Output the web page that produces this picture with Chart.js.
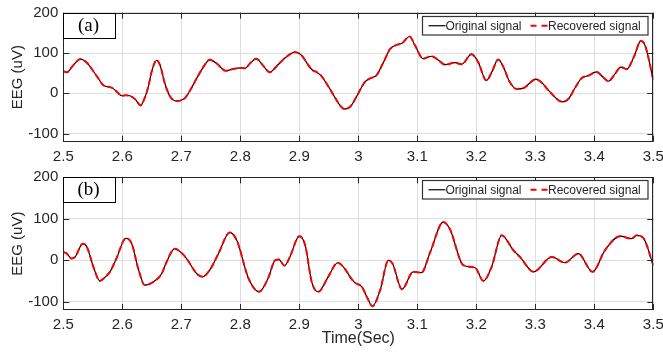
<!DOCTYPE html>
<html>
<head>
<meta charset="utf-8">
<script src="https://cdn.jsdelivr.net/npm/chart.js@4.4.1/dist/chart.umd.min.js"></script>
<style>
  body { margin: 0; background: #fff; }
  #wrap { position: relative; width: 663px; height: 356px; }
  canvas { position: absolute; left: 0; }
  #chartA { top: 0; }
  #chartB { top: 170px; }
</style>
</head>
<body>
<div id="wrap">
  <canvas id="chartA" width="663" height="170" style="width:663px;height:170px"></canvas>
  <canvas id="chartB" width="663" height="186" style="width:663px;height:186px"></canvas>
</div>
<script>
// tiempo (s) y amplitud (uV) de cada panel
const timeA = [2.500,2.506,2.516,2.529,2.540,2.548,2.558,2.568,2.582,2.590,2.599,2.606,2.613,2.622,2.631,2.637,2.644,2.650,2.658,2.664,2.672,2.681,2.692,2.706,2.716,2.726,2.736,2.748,2.760,2.775,2.787,2.800,2.808,2.817,2.827,2.838,2.850,2.862,2.876,2.893,2.904,2.913,2.921,2.930,2.938,2.948,2.958,2.968,2.977,2.987,2.997,3.011,3.020,3.031,3.042,3.054,3.065,3.074,3.087,3.096,3.110,3.124,3.136,3.147,3.164,3.175,3.192,3.203,3.217,3.227,3.237,3.246,3.256,3.268,3.280,3.301,3.312,3.322,3.346,3.356,3.368,3.378,3.390,3.404,3.415,3.424,3.435,3.445,3.455,3.467,3.479,3.486,3.500];
const originalA = [55,52,68,85,76,61,40,20,14,5,-6,-5,-6,-15,-30,-15,16,55,82,70,25,-8,-19,-12,10,37,62,83,74,56,60,63,62,75,86,70,52,68,88,102,94,75,59,52,42,20,-4,-28,-39,-32,-8,28,37,45,75,110,120,124,141,119,86,92,82,71,76,72,97,78,32,55,84,65,30,11,13,35,25,8,-21,-14,15,37,44,53,40,30,48,65,60,90,130,119,33];
const recoveredA = [55,52,68,85,76,61,40,20,14,5,-6,-5,-6,-15,-30,-15,16,55,82,70,25,-8,-19,-12,10,37,62,83,74,56,60,63,62,75,86,70,52,68,88,102,94,75,59,52,42,20,-4,-28,-39,-32,-8,28,37,45,75,110,120,124,141,119,86,92,82,71,76,72,97,78,32,55,84,65,30,11,13,35,25,8,-21,-14,15,37,44,53,40,30,48,65,60,90,130,119,33];

const timeB = [2.500,2.506,2.514,2.520,2.533,2.540,2.551,2.562,2.570,2.579,2.590,2.606,2.616,2.627,2.638,2.653,2.667,2.675,2.689,2.700,2.709,2.726,2.736,2.749,2.763,2.782,2.794,2.814,2.832,2.847,2.859,2.865,2.875,2.884,2.900,2.910,2.921,2.932,2.949,2.965,2.977,2.986,2.994,3.006,3.015,3.024,3.037,3.051,3.058,3.074,3.093,3.107,3.122,3.144,3.155,3.178,3.198,3.212,3.226,3.243,3.263,3.274,3.297,3.328,3.350,3.373,3.397,3.418,3.444,3.463,3.472,3.483,3.500];
const originalB = [20,16,4,8,40,32,-16,-50,-42,-28,4,53,40,-20,-60,-52,-32,-4,28,18,4,-32,-40,-22,16,67,48,-44,-76,-44,0,2,-13,8,58,36,-52,-76,-40,-6,-20,-40,-54,-64,-90,-111,-72,0,-8,-70,-28,-30,20,92,76,-12,-18,-50,-16,60,24,8,-28,8,-6,16,-28,24,58,52,60,54,-12];
const recoveredB = [20,16,4,8,40,32,-16,-50,-42,-28,4,53,40,-20,-60,-52,-32,-4,28,18,4,-32,-40,-22,16,67,48,-44,-76,-44,0,2,-13,8,58,36,-52,-76,-40,-6,-20,-40,-54,-64,-90,-111,-72,0,-8,-70,-28,-30,20,92,76,-12,-18,-50,-16,60,24,8,-28,8,-6,16,-28,24,58,52,60,54,-12];

// ejes
const xTickLabels = ['2.5','2.6','2.7','2.8','2.9','3','3.1','3.2','3.3','3.4','3.5'];
const yTickLabels = ['-100','0','100','200'];
const seriesNames = ['Original signal', 'Recovered signal'];

const AXIS_FONT = 'Liberation Sans, Arial, sans-serif';
const TEXT_COLOR = '#262626';

// caja, marcas hacia adentro, etiqueta del panel y leyenda
const framePlugin = {
    id: 'frame',
    afterDraw(chart, args, opts) {
        const { ctx, chartArea: a, scales: { x, y } } = chart;
        ctx.save();
        ctx.strokeStyle = TEXT_COLOR;
        ctx.lineWidth = 1;
        ctx.strokeRect(Math.round(a.left) + 0.5, Math.round(a.top) + 0.5,
            Math.round(a.right - a.left) - 1, Math.round(a.bottom - a.top) - 1);

        const len = 6;
        ctx.beginPath();
        x.ticks.forEach(t => {
            const px = Math.round(x.getPixelForValue(t.value)) + 0.5;
            ctx.moveTo(px, a.bottom); ctx.lineTo(px, a.bottom - len);
            ctx.moveTo(px, a.top); ctx.lineTo(px, a.top + len);
        });
        y.ticks.forEach(t => {
            const py = Math.round(y.getPixelForValue(t.value)) + 0.5;
            ctx.moveTo(a.left, py); ctx.lineTo(a.left + len, py);
            ctx.moveTo(a.right, py); ctx.lineTo(a.right - len, py);
        });
        ctx.stroke();

        // (a) / (b)
        const bx = Math.round(a.left) + 0.5, by = Math.round(a.top) + 0.5;
        ctx.fillStyle = '#fff';
        ctx.fillRect(bx, by, 52, 25);
        ctx.strokeStyle = '#000';
        ctx.strokeRect(bx, by, 52, 25);
        ctx.fillStyle = '#000';
        ctx.font = '19px "Liberation Serif", "Times New Roman", serif';
        ctx.textAlign = 'center';
        ctx.textBaseline = 'middle';
        ctx.fillText(opts.tag, bx + 25, by + 13);

        // leyenda
        const lw = 225.5, lh = 18.5;
        const lx = Math.round(a.right) - 5 - lw, ly = Math.round(a.top) + 3.5;
        ctx.fillStyle = '#fff';
        ctx.fillRect(lx, ly, lw, lh);
        ctx.strokeStyle = '#333';
        ctx.lineWidth = 1.2;
        ctx.strokeRect(lx, ly, lw, lh);
        const my = ly + lh / 2;
        const ds = chart.data.datasets;
        ctx.font = '12px ' + AXIS_FONT;
        ctx.textAlign = 'left';
        ctx.fillStyle = TEXT_COLOR;

        ctx.beginPath();
        ctx.strokeStyle = ds[0].borderColor;
        ctx.lineWidth = 1.2;
        ctx.moveTo(lx + 6, my); ctx.lineTo(lx + 23, my);
        ctx.stroke();
        ctx.fillText(ds[0].label, lx + 23, my + 0.5);

        ctx.beginPath();
        ctx.strokeStyle = ds[1].borderColor;
        ctx.lineWidth = 2;
        ctx.setLineDash([6, 5]);
        ctx.moveTo(lx + 108, my); ctx.lineTo(lx + 125, my);
        ctx.stroke();
        ctx.setLineDash([]);
        ctx.fillText(ds[1].label, lx + 125.5, my + 0.5);

        ctx.restore();
    }
};

function makeData(times, orig, rec) {
    return {
        datasets: [
            {
                label: seriesNames[0],
                data: times.map((t, i) => ({ x: t, y: orig[i] })),
                borderColor: '#000000',
                borderWidth: 1.2,
                order: 1
            },
            {
                label: seriesNames[1],
                data: times.map((t, i) => ({ x: t, y: rec[i] })),
                borderColor: '#ff0000',
                borderWidth: 2,
                borderDash: [6, 3],
                order: 0
            }
        ]
    };
}

function makeChart(canvasId, data, tag, showTimeTitle, padTop, xHeight) {
    const xTickVals = xTickLabels.map(Number);
    const yTickVals = yTickLabels.map(Number);
    return new Chart(document.getElementById(canvasId), {
        type: 'line',
        data: data,
        plugins: [framePlugin],
        options: {
            responsive: false,
            animation: false,
            events: [],
            layout: { padding: { top: padTop, right: 9.7, bottom: 0, left: 0 } },
            elements: {
                point: { radius: 0 },
                line: { cubicInterpolationMode: 'monotone' }
            },
            plugins: {
                legend: { display: false },
                tooltip: { enabled: false },
                frame: { tag: tag }
            },
            scales: {
                x: {
                    type: 'linear',
                    min: 2.5,
                    max: 3.5,
                    afterBuildTicks: s => { s.ticks = xTickVals.map(v => ({ value: v })); },
                    // el último rótulo puede salirse del borde, como en el original
                    afterFit: s => { s.height = xHeight; s.paddingLeft = 0; s.paddingRight = 0; },
                    ticks: {
                        callback: (v, i) => xTickLabels[i],
                        maxRotation: 0,
                        autoSkip: false,
                        padding: 6,
                        color: TEXT_COLOR,
                        font: { family: AXIS_FONT, size: 15 }
                    },
                    grid: { color: '#dedede', lineWidth: 1, drawTicks: false },
                    border: { display: false },
                    title: {
                        display: showTimeTitle,
                        text: 'Time(Sec)',
                        color: TEXT_COLOR,
                        font: { family: AXIS_FONT, size: 16 },
                        padding: { top: 0, bottom: 8 }
                    }
                },
                y: {
                    min: -120,
                    max: 200,
                    afterBuildTicks: s => { s.ticks = yTickVals.map(v => ({ value: v })); },
                    afterFit: s => { s.width = 63.3; s.paddingTop = 0; s.paddingBottom = 0; },
                    ticks: {
                        callback: (v, i) => yTickLabels[i],
                        padding: 5,
                        color: TEXT_COLOR,
                        font: { family: AXIS_FONT, size: 15 }
                    },
                    grid: { color: '#dedede', lineWidth: 1, drawTicks: false },
                    border: { display: false },
                    title: {
                        display: true,
                        text: 'EEG (uV)',
                        color: TEXT_COLOR,
                        font: { family: AXIS_FONT, size: 15 },
                        padding: { top: 8.5, bottom: 0 }
                    }
                }
            }
        }
    });
}

const chartA = makeChart('chartA', makeData(timeA, originalA, recoveredA), '(a)', false, 12.7, 28.3);
const chartB = makeChart('chartB', makeData(timeB, originalB, recoveredB), '(b)', true, 7.3, 46);
</script>
</body>
</html>
